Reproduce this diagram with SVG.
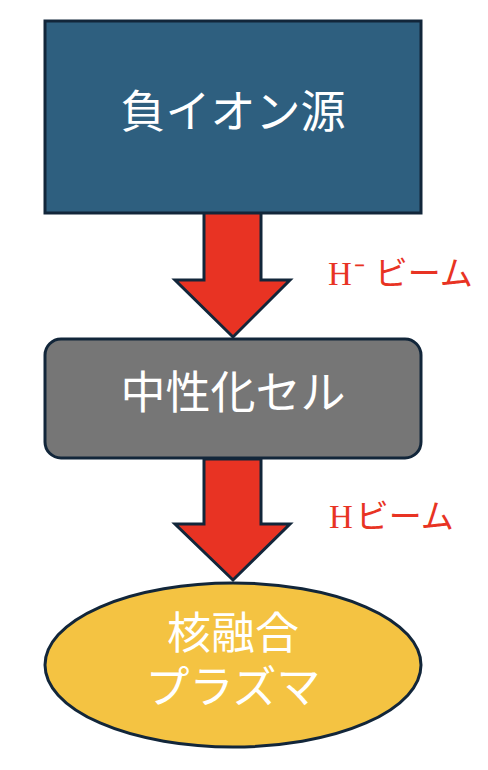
<svg xmlns="http://www.w3.org/2000/svg" width="488" height="770" viewBox="0 0 488 770">
<style>
.node{stroke:#12263a;stroke-width:3}
.t{font-family:"Noto Sans CJK JP","Noto Sans",sans-serif;font-size:45px;fill:#ffffff;text-anchor:middle}
.t2{font-size:44px}
.arr{fill:#e83323;stroke:#12263a;stroke-width:3;stroke-linejoin:miter}
.lbl{font-family:"Noto Sans CJK JP",sans-serif;font-size:33px;fill:#e83323}
.h{font-family:"Liberation Serif","Noto Serif CJK JP",serif}
</style>
<rect width="488" height="770" fill="#ffffff"/>
<g id="connectors">
<polygon class="arr" points="204,212 261,212 261,280 290,280 233,337 175,280 204,280"/>
<polygon class="arr" points="204,459 261,459 261,524 290,524 233,580 175,524 204,524"/>
</g>
<g id="source">
<rect class="node" x="45" y="21" width="376" height="192" fill="#2e5f7f"/>
<text class="t" x="233" y="128">負イオン源</text>
</g>
<g id="neutralizer">
<rect class="node" x="45" y="339" width="376" height="119" rx="16" ry="16" fill="#767676"/>
<text class="t" x="233" y="409">中性化セル</text>
</g>
<g id="plasma">
<ellipse class="node" cx="233" cy="665" rx="188" ry="82" fill="#f4c342"/>
<text class="t t2" x="233" y="649">核融合</text>
<text class="t t2" x="233" y="703">プラズマ</text>
</g>
<g id="labels">
<text class="lbl" x="328" y="285"><tspan class="h">H</tspan><tspan class="h" dx="2">⁻</tspan><tspan dx="10">ビーム</tspan></text>
<text class="lbl" x="329" y="528"><tspan class="h">H</tspan><tspan dx="3">ビーム</tspan></text>
</g>
</svg>
